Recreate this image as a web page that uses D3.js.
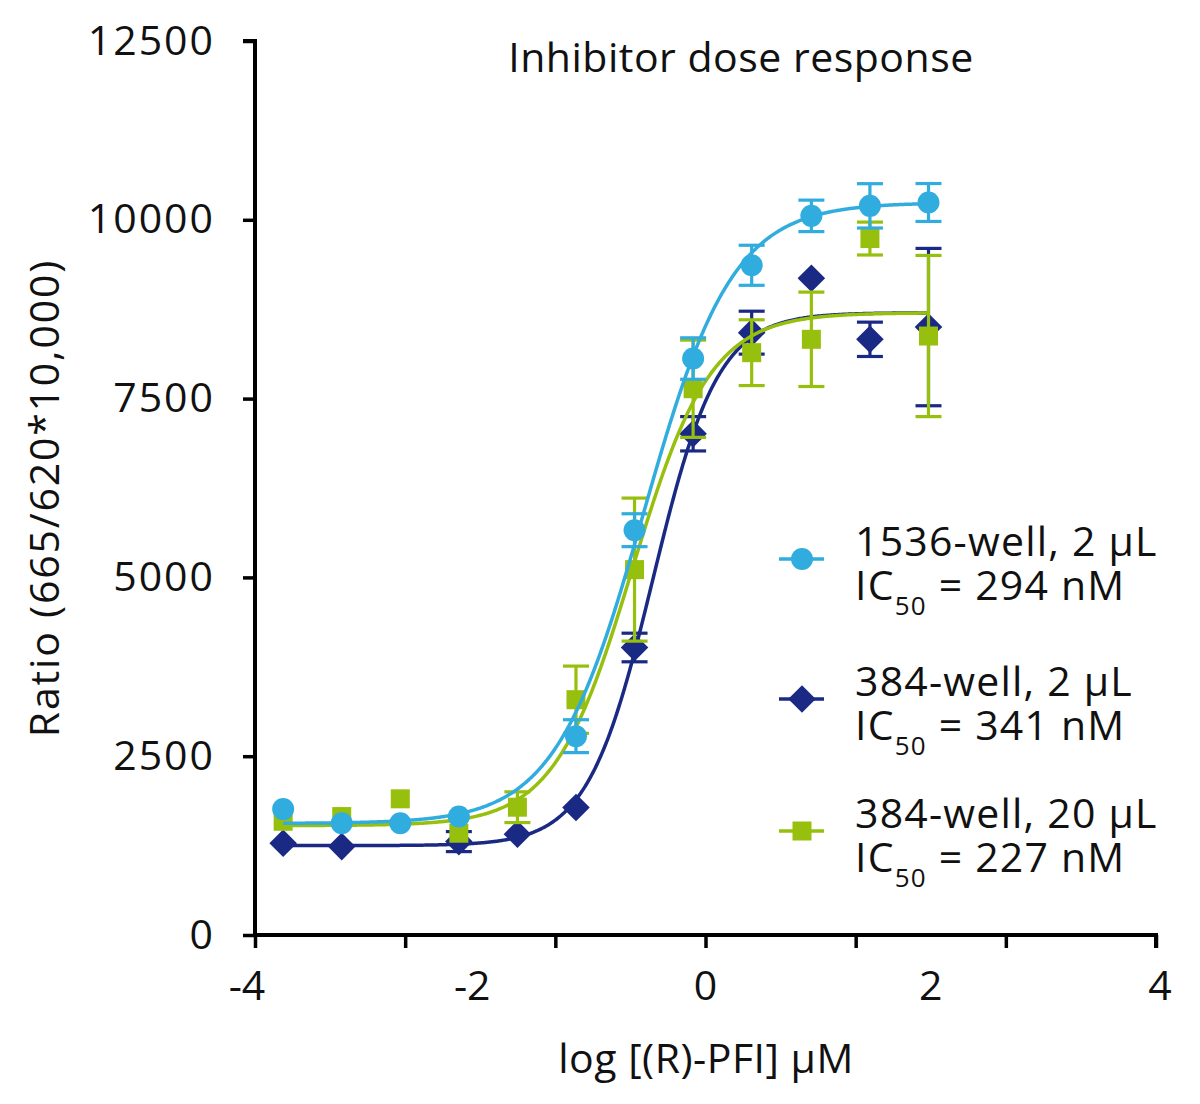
<!DOCTYPE html>
<html>
<head>
<meta charset="utf-8">
<script src="https://cdn.jsdelivr.net/npm/d3@7"></script>
<style>
  body { margin: 0; background: #fff; }
  text { font-family: "Open Sans", "Noto Sans", sans-serif; fill: #111; }
</style>
</head>
<body>
<div id="chart"></div>
<script>
const width = 1200
const height = 1104

// log [(R)-PFI] uM
const logDose = [-3.75, -3.23, -2.71, -2.19, -1.67, -1.15, -0.63, -0.11, 0.41, 0.94, 1.46, 1.98]

// 1536-well, 2 uL
const well1536 = [1760, 1563, 1563, 1656, null, 2780, 5660, 8060, 9364, 10055, 10195, 10242]
const well1536Err = [0, 0, 0, 0, 0, 230, 230, 290, 280, 220, 310, 265]
// 384-well, 2 uL
const well384a = [1283, 1236, null, 1306, 1409, 1782, 4020, 7008, 8422, 9182, 8329, 8500]
const well384aErr = [0, 0, 0, 140, 0, 0, 200, 240, 300, 0, 240, 1100]
// 384-well, 20 uL
const well384b = [1590, 1656, 1904, 1423, 1787, 3290, 5109, 7638, 8142, 8329, 9738, 8375]
const well384bErr = [0, 0, 0, 0, 215, 470, 1000, 680, 460, 660, 230, 1127]

// 4PL fit: bottom, top, logIC50, hill
const fit1536 = [1560, 10240, -0.55, 1.1]
const fit384a = [1250, 8700, -0.467, 1.5]
const fit384b = [1530, 8700, -0.65, 1.25]

const yTicks = [0, 2500, 5000, 7500, 10000, 12500]
const xLabels = [-4, -2, 0, 2, 4]
const xTicks = d3.range(7).map(i => -4 + i * 8 / 6)

const svg = d3.select('#chart').append('svg')
  .attr('width', width)
  .attr('height', height)

const x = d3.scaleLinear().domain([-4, 4]).range([255, 1156])
const y = d3.scaleLinear().domain([0, 12500]).range([935, 41])

// axes
const yAxis = svg.append('g')
  .attr('transform', 'translate(255,0)')
  .call(d3.axisLeft(y).tickValues(yTicks).tickSize(12).tickPadding(28).tickFormat(d3.format('d')))
yAxis.select('.domain').attr('stroke-width', 4).attr('d', 'M-12,' + y(12500) + 'H0V' + (y(0) + 2) )
yAxis.selectAll('.tick line').attr('stroke-width', 3.5)
yAxis.selectAll('.tick text').attr('font-size', 41).attr('letter-spacing', 2).attr('fill', '#111')

const xAxis = svg.append('g')
  .attr('transform', 'translate(0,935)')
  .call(d3.axisBottom(x).tickValues(xTicks).tickSize(13).tickFormat(''))
xAxis.select('.domain').attr('stroke-width', 4).attr('d', 'M' + (x(-4) - 2) + ',0H' + x(4) + 'V13')
xAxis.selectAll('.tick line').attr('stroke-width', 3.5)

svg.append('g').selectAll('text')
  .data(xLabels)
  .enter()
  .append('text')
  .attr('x', d => x(d) - (d < 0 ? 8 : d === 4 ? -4 : 0))
  .attr('y', 1000)
  .attr('text-anchor', 'middle')
  .attr('font-size', 41)
  .text(d => d)

svg.append('text')
  .attr('x', 706)
  .attr('y', 1073)
  .attr('text-anchor', 'middle')
  .attr('font-size', 41)
  .attr('letter-spacing', 0.5)
  .text('log [(R)-PFI] \u00b5M')

svg.append('text')
  .attr('transform', 'translate(59,498) rotate(-90)')
  .attr('text-anchor', 'middle')
  .attr('font-size', 41)
  .attr('letter-spacing', 1.8)
  .text('Ratio (665/620*10,000)')

svg.append('text')
  .attr('x', 741)
  .attr('y', 72)
  .attr('text-anchor', 'middle')
  .attr('font-size', 41)
  .attr('letter-spacing', 0.5)
  .text('Inhibitor dose response')

const logistic = p => v => p[0] + (p[1] - p[0]) / (1 + Math.pow(10, (p[2] - v) * p[3]))

const series = [
  { name: '384-well, 2 \u00b5L', ic: '341', vals: well384a, err: well384aErr, fit: fit384a, color: '#1a2a84', shape: 'diamond' },
  { name: '384-well, 20 \u00b5L', ic: '227', vals: well384b, err: well384bErr, fit: fit384b, color: '#97bf0d', shape: 'square' },
  { name: '1536-well, 2 \u00b5L', ic: '294', vals: well1536, err: well1536Err, fit: fit1536, color: '#31acde', shape: 'circle' }
]

const symbolFor = shape => {
  if (shape === 'circle') return d3.symbol().type(d3.symbolCircle).size(Math.PI * 11 * 11)()
  if (shape === 'square') return d3.symbol().type(d3.symbolSquare).size(19 * 19)()
  return d3.symbol().type(d3.symbolSquare).size(19.5 * 19.5)()
}

const xsCurve = d3.range(logDose[0], logDose[logDose.length - 1] + 0.001, 0.01)
const line = d3.line().x(d => x(d[0])).y(d => y(d[1])).curve(d3.curveLinear)

series.forEach(s => {
  const g = svg.append('g')
  const f = logistic(s.fit)
  g.append('path')
    .datum(xsCurve.map(v => [v, f(v)]))
    .attr('d', line)
    .attr('fill', 'none')
    .attr('stroke', s.color)
    .attr('stroke-width', 3.5)

  const pts = logDose.map((d, i) => ({ x: d, v: s.vals[i], e: s.err[i] })).filter(d => d.v !== null)

  const eb = g.selectAll('.err')
    .data(pts.filter(d => d.e > 0))
    .enter()
    .append('g')
    .attr('stroke', s.color)
    .attr('stroke-width', 3.2)
  eb.append('line')
    .attr('x1', d => x(d.x)).attr('x2', d => x(d.x))
    .attr('y1', d => y(d.v - d.e)).attr('y2', d => y(d.v + d.e))
  eb.append('line')
    .attr('x1', d => x(d.x) - 13).attr('x2', d => x(d.x) + 13)
    .attr('y1', d => y(d.v + d.e)).attr('y2', d => y(d.v + d.e))
  eb.append('line')
    .attr('x1', d => x(d.x) - 13).attr('x2', d => x(d.x) + 13)
    .attr('y1', d => y(d.v - d.e)).attr('y2', d => y(d.v - d.e))

  g.selectAll('.pt')
    .data(pts)
    .enter()
    .append('path')
    .attr('d', symbolFor(s.shape))
    .attr('transform', d => 'translate(' + x(d.x) + ',' + y(d.v) + ')' + (s.shape === 'diamond' ? ' rotate(45)' : ''))
    .attr('fill', s.color)
})

// legend
const legendOrder = [series[2], series[0], series[1]]
const legendY = [559, 699, 831]
const leg = svg.append('g')
legendOrder.forEach((s, i) => {
  const ly = legendY[i]
  leg.append('line')
    .attr('x1', 779).attr('x2', 824)
    .attr('y1', ly).attr('y2', ly)
    .attr('stroke', s.color)
    .attr('stroke-width', 3.5)
  leg.append('path')
    .attr('d', symbolFor(s.shape))
    .attr('transform', 'translate(802,' + ly + ')' + (s.shape === 'diamond' ? ' rotate(45)' : ''))
    .attr('fill', s.color)
  const t = leg.append('text')
    .attr('x', 855)
    .attr('y', ly - 3)
    .attr('font-size', 41)
    .attr('letter-spacing', 1.2)
  t.append('tspan').text(s.name)
  t.append('tspan').attr('x', 855).attr('dy', 44).text('IC')
  t.append('tspan').attr('font-size', 26).attr('dy', 15).text('50')
  t.append('tspan').attr('dy', -15).text(' = ' + s.ic + ' nM')
})
</script>
</body>
</html>
